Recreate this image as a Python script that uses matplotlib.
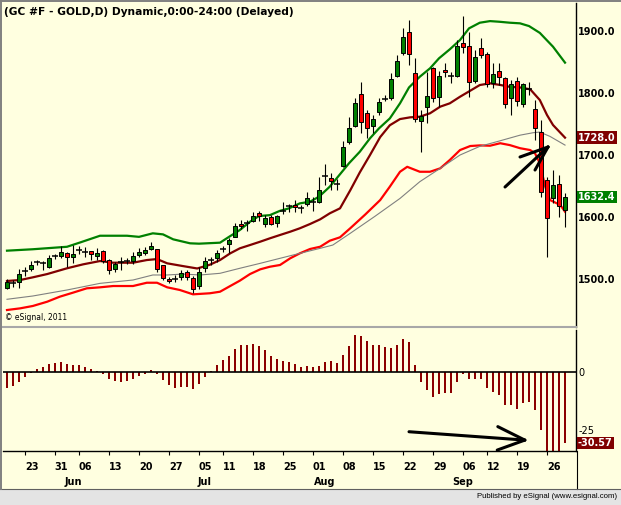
import numpy as np
import matplotlib.pyplot as plt
from matplotlib.transforms import blended_transform_factory
from matplotlib.lines import Line2D
from matplotlib.patches import Rectangle

# daily candles, bar 0 = 18 May 2011 ... bar 93 = 29 Sep 2011
opens = [1486, 1494, 1494.7, 1513.4, 1516, 1527, 1525.3, 1520, 1537.6, 1537.1,
         1541.4, 1535, 1546.8, 1544, 1545, 1537.6, 1545.6, 1530.6, 1516, 1528,
         1529.5, 1529.5, 1538.7, 1541.4, 1547.9, 1548.4, 1522.6, 1500, 1499.5, 1502.7,
         1511.3, 1501, 1488.7, 1517.3, 1530.6, 1533.4, 1547.9, 1555.9, 1568.2, 1589,
         1590.8, 1594, 1606, 1588.7, 1600.5, 1589.8, 1610.2, 1617.7, 1619.4, 1614,
         1620.5, 1623.7, 1623.7, 1666, 1662.4, 1652.7, 1682.7, 1720.5, 1747.3, 1797.9,
         1768.3, 1746.8, 1768.9, 1790.3, 1792.4, 1828, 1864, 1898.9, 1831.8, 1754.8,
         1776.9, 1839.8, 1793, 1837, 1827.4, 1827.9, 1880.2, 1875.8, 1819.4, 1872,
         1862.9, 1816.6, 1836, 1823.7, 1791.5, 1819.4, 1782, 1806, 1775, 1737.6,
         1659.7, 1630, 1653.2, 1611.3]
highs = [1499.5, 1499, 1516, 1520, 1529, 1531, 1529, 1538.7, 1541, 1553,
         1544, 1554.8, 1554, 1552, 1545.5, 1550, 1546.5, 1532, 1527, 1536,
         1534, 1544, 1550, 1552, 1560, 1549, 1523, 1503.5, 1506, 1514,
         1515, 1505, 1519, 1536, 1536, 1546, 1553, 1566, 1590, 1595,
         1595, 1608, 1609, 1603, 1603, 1604, 1624.7, 1621, 1628, 1620,
         1640, 1633, 1664, 1685.5, 1670.5, 1660.8, 1723, 1760.8, 1791.5, 1818.3,
         1772.6, 1764.5, 1791.5, 1797, 1832.8, 1861.3, 1905.3, 1917.7, 1856, 1772.6,
         1834.4, 1842.4, 1836, 1848, 1834.4, 1885.5, 1924.7, 1898.9, 1869.4, 1888.2,
         1866.6, 1848.9, 1848, 1826.3, 1821, 1826.3, 1815.6, 1818, 1788.7, 1756.5,
         1665, 1675.8, 1667.7, 1638.2]
lows = [1483.4, 1487, 1486, 1505, 1513, 1522, 1514.5, 1518, 1533, 1534,
        1520, 1525.3, 1541, 1536, 1530.6, 1530, 1526, 1508, 1511, 1515,
        1525, 1524, 1535, 1538, 1546, 1511.8, 1499, 1493, 1495, 1499,
        1499, 1477, 1484, 1512, 1522.6, 1528, 1543, 1541.4, 1567, 1580,
        1577, 1592, 1593, 1584, 1587, 1584, 1604.8, 1608, 1608, 1606,
        1617, 1610, 1622, 1651.6, 1643.5, 1643.5, 1681, 1717.7, 1745.6, 1735,
        1727, 1735, 1764.5, 1787, 1788.7, 1826.3, 1861.3, 1845.2, 1753.7, 1705.3,
        1751.1, 1786, 1778, 1826.3, 1815.6, 1826.3, 1865, 1794, 1815.6, 1856,
        1810.2, 1807.6, 1813, 1775.3, 1764.5, 1779, 1778, 1797, 1724.2, 1632.7,
        1536, 1622, 1600.5, 1584.4]
closes = [1495.7, 1494, 1508, 1513.4, 1522.6, 1527, 1525.3, 1534.4, 1537.6, 1543,
          1535, 1541, 1546.8, 1544, 1540, 1542.5, 1529.5, 1514.5, 1524.2, 1528,
          1529.5, 1537, 1544, 1546.8, 1553.2, 1515.6, 1501, 1496.8, 1499.5, 1510,
          1502.7, 1483.4, 1511.8, 1529, 1530.6, 1541.4, 1547.9, 1562.9, 1585.5, 1586,
          1590.8, 1601.6, 1601.6, 1597.9, 1588.7, 1601.6, 1610.2, 1617.7, 1615.6, 1614,
          1630, 1623.7, 1643.5, 1666, 1658.5, 1652.7, 1713.4, 1744, 1783.3, 1752.7,
          1743, 1758, 1785, 1790.3, 1822, 1851.6, 1890.8, 1862.9, 1758, 1762.9,
          1795.6, 1792.4, 1828, 1833.4, 1827.4, 1876.3, 1874.8, 1818.2, 1857.6, 1861.3,
          1814.5, 1830.6, 1826.3, 1782.3, 1814, 1787.1, 1815, 1806, 1743, 1640.8,
          1597.9, 1651.6, 1617.7, 1632.4]

# indicator lines (bar index, price)
upper_x = [0, 4.3, 10, 12.2, 15.5, 20, 22, 24.3, 26, 27.7, 30.5, 32, 35.5, 37, 38.8,
           40.5, 42, 43.8, 45.5, 47, 48.8, 50.5, 52, 53.8, 55.5, 57, 58.8, 60.5, 62,
           63.8, 65.5, 67, 68.8, 70.5, 72, 73.8, 75.5, 77, 78.8, 80.5, 82, 83.8, 85.5,
           87, 88.8, 91, 93]
upper_y = [1545.7, 1548, 1552, 1559, 1569.8, 1569.8, 1568, 1573.7, 1572, 1564, 1557.6,
           1557, 1558.6, 1568, 1579, 1592.4, 1601.6, 1603, 1610, 1614, 1622, 1624.7,
           1632.8, 1649, 1669, 1686.7, 1705.3, 1727, 1743, 1759, 1783.4, 1809, 1826.3,
           1839.8, 1856, 1870.5, 1885.5, 1904.3, 1913.4, 1916, 1915, 1913.4, 1912.4,
           1908, 1897, 1874.7, 1849]
mid_x = [0, 2.2, 4.3, 6.7, 10, 12.7, 15.5, 17.7, 21, 23.3, 25, 26.7, 29.3, 31.7, 33.8,
         35.5, 37.2, 38.8, 40.5, 42.2, 43.8, 45.5, 47.2, 48.8, 50.5, 52.2, 53.8, 55.5,
         57.2, 58.8, 60.5, 62.2, 63.8, 65.5, 67.2, 68.8, 70.5, 72.2, 73.8, 75.5, 77.2,
         78.8, 80.5, 82.2, 83.8, 85.5, 87.2, 88.8, 90, 91, 93]
mid_y = [1496.8, 1498.4, 1502.7, 1508, 1517.3, 1523.7, 1529, 1526.3, 1526.3, 1530.6,
         1532.2, 1525.3, 1520.9, 1517, 1523, 1530.6, 1541.4, 1549.5, 1554.8, 1560.2,
         1565.6, 1571, 1576.3, 1581.8, 1588.7, 1596.3, 1606, 1614, 1643, 1672, 1700,
         1729, 1748, 1758, 1760.8, 1761.8, 1767.3, 1778, 1783.4, 1794, 1803.7, 1812.9,
         1815.6, 1813, 1810, 1809, 1806, 1788.7, 1764.5, 1748.4, 1728.0]
lower_x = [0, 2.2, 4.3, 6.7, 8.8, 11, 13.3, 15.5, 17.7, 21, 23.3, 25, 26.7, 28.8, 31,
           33.8, 35.5, 37.2, 38.8, 40.5, 42.2, 43.8, 45.5, 47.2, 48.8, 50.5, 52.2, 53.8,
           55.5, 57.2, 59.7, 62.2, 63.8, 65.5, 66.7, 68.8, 70.5, 72.2, 73.8, 75.5, 77.2,
           78.8, 80.5, 82.2, 83.8, 85.5, 87.2, 88, 88.8, 89.7, 90.5, 92.2, 93]
lower_y = [1450, 1452.7, 1456.5, 1463.4, 1471.5, 1478, 1485, 1486.6, 1488.7, 1488.7,
           1494, 1494, 1486.6, 1482.3, 1475.3, 1477, 1479.5, 1488.7, 1497.3, 1508,
           1515.6, 1519.8, 1522.6, 1533.4, 1541.4, 1548.4, 1552.1, 1561.8, 1567.3, 1581.8,
           1604, 1627.4, 1648.9, 1673, 1681, 1673, 1673, 1678.5, 1692, 1708,
           1714.5, 1715.5, 1715, 1719, 1716, 1711, 1708, 1702.7, 1686.7, 1648.9,
           1627.4, 1619.4, 1608.6]
slow_x = [0, 4.3, 10, 15.5, 21, 24.3, 26.7, 29.3, 32.2, 35.5, 38.8, 42.2, 45.5, 48.8,
          52.2, 54.3, 57.2, 61.3, 65.5, 68.8, 72.2, 75.5, 78.8, 82.2, 85.5, 87.7, 88.8,
          90.5, 93]
slow_y = [1467.3, 1472.6, 1482.3, 1493, 1498.4, 1506.5, 1506.5, 1508, 1506.5, 1509.2,
          1517.3, 1525.3, 1533.4, 1541.4, 1549.5, 1554.8, 1573.7, 1601, 1630, 1657,
          1678.5, 1700, 1714, 1723, 1732, 1736, 1737, 1730, 1716]

# oscillator histogram (lower pane)
osc = [-6.6, -5.7, -4.0, -1.9, -0.4, 1.4, 2.3, 3.6, 4.0, 4.5,
       3.6, 3.2, 3.2, 2.3, 1.4, 0.6, -0.7, -2.9, -3.7, -4.0,
       -3.6, -2.7, -1.6, -0.7, 1.0, -0.6, -3.3, -5.3, -6.6, -6.3,
       -6.3, -7.0, -5.2, -1.9, 0.7, 3.3, 5.3, 7.2, 10.1, 11.8,
       11.8, 12.2, 11.3, 9.6, 7.0, 5.7, 4.9, 4.3, 3.6, 2.3,
       2.7, 2.3, 2.9, 4.3, 4.9, 4.0, 7.5, 11.4, 16.1, 15.5,
       13.5, 11.8, 11.8, 10.9, 10.3, 11.8, 14.4, 13.2, 3.2, -4.2,
       -7.6, -10.5, -9.5, -9.1, -8.8, -4.0, -0.7, -3.0, -3.0, -2.7,
       -6.6, -8.5, -9.9, -14.1, -14.1, -15.7, -13.1, -13.0, -16.3, -24.7,
       -36.0, -37.0, -36.0, -30.57]

day_ticks = [3, 8, 12, 17, 22, 27, 32, 36, 41, 46, 51, 56, 61, 66, 71, 76, 80, 85, 90]
day_labels = ["23", "31", "06", "13", "20", "27", "05", "11", "18", "25",
              "01", "08", "15", "22", "29", "06", "12", "19", "26"]
month_starts = [9, 31, 51, 74]
month_labels = ["Jun", "Jul", "Aug", "Sep"]
price_ticks = [1500, 1600, 1700, 1800, 1900]

BG = "#FFFFE0"
W, H = 621, 505

fig = plt.figure(figsize=(W / 100, H / 100), dpi=100, facecolor=BG)
ax = fig.add_axes([3 / W, (H - 327) / H, 573 / W, 324 / H], facecolor=BG)
ax2 = fig.add_axes([3 / W, (H - 451) / H, 573 / W, 121 / H], facecolor=BG)

o, h, l, c = map(np.array, (opens, highs, lows, closes))
x = np.arange(len(o))
up = c > o
dn = c < o
dj = c == o

# bands
ax.plot(upper_x, upper_y, color="#008000", lw=1.6, zorder=2)
ax.plot(mid_x, mid_y, color="#800000", lw=1.6, zorder=2)
ax.plot(lower_x, lower_y, color="#FF0000", lw=1.6, zorder=2)
ax.plot(slow_x, slow_y, color="#808080", lw=0.8, zorder=2)

# candles
ax.vlines(x, l, h, color="black", lw=0.8, zorder=3)
ax.bar(x[up], (c - o)[up], bottom=o[up], width=0.72, color="#008000",
       edgecolor="black", linewidth=0.7, zorder=4)
ax.bar(x[dn], (o - c)[dn], bottom=c[dn], width=0.72, color="#FF0000",
       edgecolor="black", linewidth=0.7, zorder=4)
ax.hlines(c[dj], x[dj] - 0.45, x[dj] + 0.45, color="black", lw=1.1, zorder=4)

ax.set_xlim(-0.667, 94.83)
ax.set_ylim(1422.6, 1945.2)
ax.set_xticks([])
ax.yaxis.tick_right()
ax.set_yticks(price_ticks)
ax.set_yticklabels([f"{p:.1f}" for p in price_ticks], fontsize=7, fontweight="bold")
ax.tick_params(axis="y", length=0, pad=1.5)
for s in ("left", "top"):
    ax.spines[s].set_visible(False)
ax.spines["bottom"].set_color("#A8A8A8")
ax.spines["bottom"].set_linewidth(1.5)
ax.spines["right"].set_linewidth(1)

# last value boxes
tr = blended_transform_factory(ax.transAxes, ax.transData)
for val, fc in ((1728.0, "#800000"), (1632.4, "#008000")):
    ax.text(1 + 2 / 573, val, f"{val:.1f}", transform=tr, ha="left", va="center",
            color="white", fontsize=7, fontweight="bold", zorder=6,
            bbox=dict(boxstyle="square,pad=0.12", fc=fc, ec="none"))

# arrow in price pane
arr = dict(color="black", lw=2.2, solid_capstyle="round", zorder=5)
ax.plot([83.0, 90.17], [1648.4, 1713.0], **arr)
ax.plot([85.5, 90.17], [1696.8, 1713.0], **arr)
ax.plot([88.0, 90.17], [1675.8, 1713.0], **arr)

ax.text(2 / 573, (327 - 318) / 324, "\u00a9 eSignal, 2011", transform=ax.transAxes,
        fontsize=5.5, ha="left", va="center")

# oscillator pane
ax2.bar(x, osc, width=0.4, color="#8B0000", zorder=2)
ax2.axhline(0, color="black", lw=1.2, zorder=3)
ax2.set_xlim(-0.667, 94.83)
ax2.set_ylim(-33.9, 18.23)
ax2.yaxis.tick_right()
ax2.set_yticks([0, -25])
ax2.set_yticklabels(["0", "-25"], fontsize=7)
ax2.tick_params(axis="y", length=0, pad=1.5)
ax2.set_xticks(day_ticks)
ax2.set_xticklabels([])
ax2.tick_params(axis="x", length=3, width=0.8, direction="out")
for s in ("left", "top"):
    ax2.spines[s].set_visible(False)
ax2.spines["right"].set_linewidth(1)
ax2.spines["bottom"].set_linewidth(1)

tr2 = blended_transform_factory(ax2.transAxes, ax2.transData)
ax2.text(1 + 2 / 573, -30.57, "-30.57", transform=tr2, ha="left", va="center",
         color="white", fontsize=7, fontweight="bold", zorder=6,
         bbox=dict(boxstyle="square,pad=0.12", fc="#800000", ec="none"))

arr2 = dict(color="black", lw=2.2, solid_capstyle="round", zorder=5, clip_on=False)
ax2.plot([67.0, 86.3], [-25.6, -29.2], **arr2)
ax2.plot([81.8, 86.3], [-23.4, -29.2], **arr2)
ax2.plot([81.7, 86.3], [-33.5, -29.2], **arr2)

# date labels
trd = blended_transform_factory(ax2.transData, fig.transFigure)
for t, lab in zip(day_ticks, day_labels):
    fig.text(t + 1.1, 1 - 467 / H, lab, transform=trd, ha="center", va="center",
             fontsize=7, fontweight="bold")
for t, lab in zip(month_starts, month_labels):
    fig.text(t + 2, 1 - 482 / H, lab, transform=trd, ha="center", va="center",
             fontsize=7, fontweight="bold")

# title
fig.text(4 / W, 1 - 12 / H, "(GC #F - GOLD,D) Dynamic,0:00-24:00 (Delayed)",
         fontsize=7.7, fontweight="bold", ha="left", va="center")

# frame, right divider and footer
fig.add_artist(Line2D([576.5 / W, 576.5 / W], [1 - 451 / H, 1 - 489 / H], color="black", lw=0.8))
fig.add_artist(Rectangle((0, 0), 1, 16 / H, transform=fig.transFigure,
                         fc="#E4E4E4", ec="none"))
fig.add_artist(Line2D([0, 1], [16 / H, 16 / H], color="#606060", lw=0.8))
fig.add_artist(Line2D([1 / W, 1 / W], [16 / H, 1], color="#808080", lw=1.4))
fig.add_artist(Line2D([0, 1], [1 - 1 / H, 1 - 1 / H], color="#808080", lw=1.4))
fig.text(617 / W, 8 / H, "Published by eSignal (www.esignal.com)", fontsize=5.6,
         ha="right", va="center", family="Liberation Sans")

fig.savefig("out.png", dpi=100, facecolor=BG)
